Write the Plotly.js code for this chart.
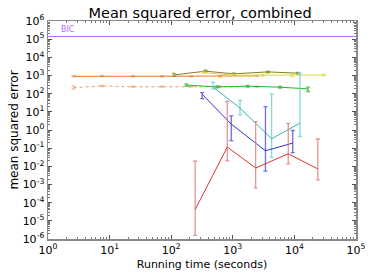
<!DOCTYPE html>
<html>
<head>
<meta charset="utf-8">
<script src="https://cdn.plot.ly/plotly-3.0.1.min.js"></script>
<style>html,body{margin:0;padding:0;background:#fff;}#chart{width:374px;height:280px;}</style>
</head>
<body>
<div id="chart"></div>
<script>
// BIC reference line
const bicX = [1, 100000];
const bicY = [140000, 140000];

// orange solid
const orangeX = [2.6, 7.5, 24, 71, 210, 620, 2500];
const orangeY = [900, 930, 900, 910, 920, 920, 960];
const orangeHi = [980, 1000, 970, 980, 990, 990, 1030];
const orangeLo = [830, 860, 830, 840, 850, 850, 890];

// orange dotted
const orange2X = [2.6, 7.5, 24, 71, 210, 620, 2500];
const orange2Y = [215, 265, 240, 245, 250, 245, 240];
const orange2Hi = [270, 285, 258, 263, 268, 263, 258];
const orange2Lo = [183, 247, 223, 228, 233, 228, 223];

// olive
const oliveX = [110, 360, 1030, 3700, 11400];
const oliveY = [1070, 1740, 1230, 1580, 1340];
const oliveHi = [1310, 1950, 1380, 1760, 1500];
const oliveLo = [890, 1560, 1090, 1420, 1200];

// yellow
const yellowX = [335, 1000, 3070, 9100, 30000];
const yellowY = [1440, 1040, 1040, 1040, 1060];
const yellowHi = [1600, 1180, 1160, 1250, 1180];
const yellowLo = [1300, 920, 930, 880, 950];

// green
const greenX = [176, 560, 1730, 5860, 16700];
const greenY = [295, 236, 257, 228, 183];
const greenHi = [340, 265, 285, 255, 230];
const greenLo = [255, 210, 230, 205, 132];

// cyan
const cyanX = [480, 1310, 4270, 12300];
const cyanY = [230, 16, 0.33, 2.4];
const cyanHi = [430, 42, 98, 1350];
const cyanLo = [178, 6.8, 0.031, 0.44];

// blue
const blueX = [318, 945, 3390, 9400];
const blueY = [93, 2.1, 0.072, 0.19];
const blueHi = [115, 6, 19.5, 0.94];
const blueLo = [54, 0.26, 0.0055, 0.057];

// red
const redX = [245, 815, 2350, 7950, 24000];
const redY = [0.000042, 0.115, 0.0081, 0.049, 0.0072];
const redHi = [0.019, 37, 2.9, 2.3, 0.32];
const redLo = [0.0000016, 0.02, 0.00065, 0.0135, 0.0018];

// axis ticks
const xTickVals = [1, 10, 100, 1000, 10000, 100000];
const xTickText = ['10<sup>0</sup>','10<sup>1</sup>','10<sup>2</sup>','10<sup>3</sup>','10<sup>4</sup>','10<sup>5</sup>'];
const yTickVals = [1e-6,1e-5,1e-4,1e-3,1e-2,1e-1,1,10,100,1e3,1e4,1e5,1e6];
const yTickText = ['10<sup>-6</sup>','10<sup>-5</sup>','10<sup>-4</sup>','10<sup>-3</sup>','10<sup>-2</sup>','10<sup>-1</sup>','10<sup>0</sup>','10<sup>1</sup>','10<sup>2</sup>','10<sup>3</sup>','10<sup>4</sup>','10<sup>5</sup>','10<sup>6</sup>'];

function series(x, y, hi, lo, color, ecolor, dash) {
  return {
    x: x, y: y, type: 'scatter', mode: 'lines',
    line: {color: color, width: 1, dash: dash || 'solid'},
    error_y: {
      type: 'data', symmetric: false,
      array: y.map((v, i) => hi[i] - v),
      arrayminus: y.map((v, i) => v - lo[i]),
      color: ecolor, thickness: 1.3, width: 2
    },
    hoverinfo: 'skip'
  };
}

const traces = [
  {x: bicX, y: bicY, type: 'scatter', mode: 'lines', line: {color: '#bb66ff', width: 1}},
  series(orange2X, orange2Y, orange2Hi, orange2Lo, '#f0a060', 'rgba(238,120,40,0.5)', 'dot'),
  series(orangeX, orangeY, orangeHi, orangeLo, '#ee7722', 'rgba(238,120,40,0.5)'),
  series(greenX, greenY, greenHi, greenLo, '#22bb22', 'rgba(34,170,34,0.7)'),
  series(oliveX, oliveY, oliveHi, oliveLo, '#808020', 'rgba(128,128,32,0.7)'),
  series(yellowX, yellowY, yellowHi, yellowLo, '#d8d840', 'rgba(216,216,64,0.7)'),
  series(cyanX, cyanY, cyanHi, cyanLo, '#33b5b5', 'rgba(110,210,210,0.85)'),
  series(blueX, blueY, blueHi, blueLo, '#3333cc', 'rgba(60,60,220,0.75)'),
  series(redX, redY, redHi, redLo, '#dd3333', 'rgba(225,120,120,0.8)')
];

const axisCommon = {
  type: 'log', showgrid: false, zeroline: false,
  showline: true, linecolor: '#8a8a8a', linewidth: 1.5, mirror: 'allticks',
  ticks: 'inside', ticklen: 4, tickcolor: '#555', tickwidth: 1,
  minor: {ticks: 'inside', ticklen: 2, tickcolor: '#777', dtick: 'D1', showgrid: false},
  tickfont: {family: 'DejaVu Sans', size: 11, color: '#000'}
};

const layout = {
  width: 374, height: 280,
  margin: {l: 48, r: 18, t: 21, b: 41},
  paper_bgcolor: '#fff', plot_bgcolor: '#fff',
  showlegend: false,
  title: {text: 'Mean squared error, combined', font: {family: 'DejaVu Sans', size: 14.5, color: '#000'}, x: 0.535, xanchor: 'center', y: 0.955, yanchor: 'middle'},
  xaxis: Object.assign({}, axisCommon, {
    range: [0, 5], tickvals: xTickVals, ticktext: xTickText,
    title: {text: 'Running time (seconds)', font: {family: 'DejaVu Sans', size: 11, color: '#000'}, standoff: 4}
  }),
  yaxis: Object.assign({}, axisCommon, {
    range: [-6, 6], tickvals: yTickVals, ticktext: yTickText,
    title: {text: 'mean squared error', font: {family: 'DejaVu Sans', size: 12, color: '#000'}, standoff: 1}
  }),
  annotations: [{
    x: 0.18, y: 5.2, xref: 'x', yref: 'y', xanchor: 'left', yanchor: 'bottom',
    text: 'BIC', showarrow: false, font: {family: 'DejaVu Sans', size: 8, color: '#bb66ff'}
  }]
};

Plotly.newPlot('chart', traces, layout, {staticPlot: true, displayModeBar: false});
</script>
</body>
</html>
